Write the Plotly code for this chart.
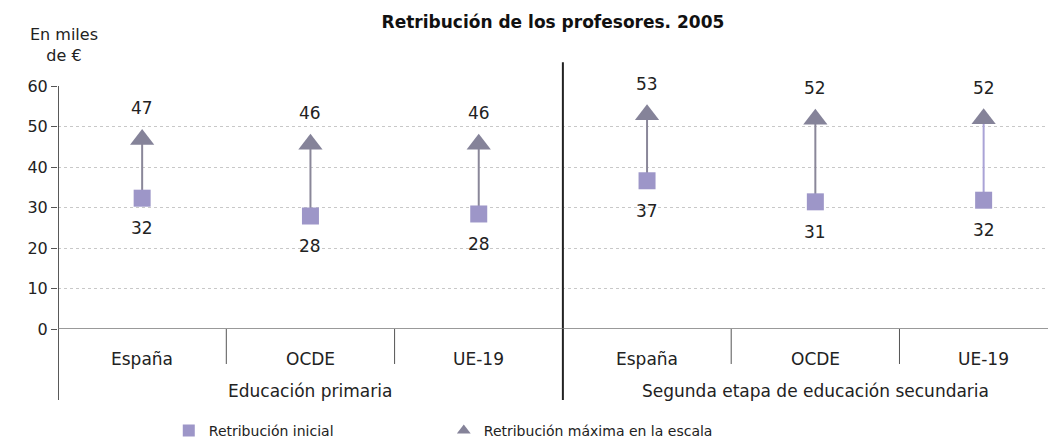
"""Retribución de los profesores, 2005 - rango inicial / máximo."""

import plotly.graph_objects as go

FONT = "DejaVu Sans, Verdana, sans-serif"

groups = ["Educación primaria", "Segunda etapa de educación secundaria"]
countries = ["España", "OCDE", "UE-19", "España", "OCDE", "UE-19"]
initial = [32.3, 27.9, 28.4, 36.6, 31.4, 31.8]
maximum = [46.8, 45.6, 45.6, 52.9, 51.8, 51.9]
y_ticks = [0, 10, 20, 30, 40, 50, 60]

SQUARE = "#9d96c8"
TRIANGLE = "#858399"
STEM = ["#8a8799", "#8a8799", "#8a8799", "#8a8799", "#8a8799", "#aaa3d6"]

xs = [i + 0.5 for i in range(len(countries))]

fig = go.Figure()

for x, lo, hi, col in zip(xs, initial, maximum, STEM):
    fig.add_trace(
        go.Scatter(
            x=[x, x], y=[lo, hi], mode="lines",
            line=dict(color=col, width=2), showlegend=False, hoverinfo="skip",
        )
    )

fig.add_trace(
    go.Scatter(
        x=xs, y=initial, mode="markers", name="Retribución inicial",
        marker=dict(symbol="square", size=17, color=SQUARE),
    )
)
fig.add_trace(
    go.Scatter(
        x=xs, y=maximum, mode="markers", name="Retribución máxima en la escala",
        marker=dict(symbol="triangle-up", size=21, color=TRIANGLE),
    )
)

label_font = dict(family=FONT, size=17, color="#222222")
for x, lo, hi in zip(xs, initial, maximum):
    fig.add_annotation(x=x, y=hi, text=f"{hi:.0f}", showarrow=False, yshift=31,
                       yanchor="middle", font=label_font)
    fig.add_annotation(x=x, y=lo, text=f"{lo:.0f}", showarrow=False, yshift=-30,
                       yanchor="middle", font=label_font)

# category axis below the plot
cat_font = dict(family=FONT, size=17, color="#222222")
for x, name in zip(xs, countries):
    fig.add_annotation(x=x, y=-0.123, yref="paper", yanchor="middle", text=name,
                       showarrow=False, font=cat_font)
for i, g in enumerate(groups):
    fig.add_annotation(x=1.5 + 3 * i, y=-0.255, yref="paper", yanchor="middle", text=g,
                       showarrow=False, font=cat_font)

for b in [1, 2, 4, 5]:
    fig.add_shape(type="line", x0=b, x1=b, y0=0, y1=-0.144, yref="paper",
                  line=dict(color="#555555", width=1))
fig.add_shape(type="line", x0=3, x1=3, y0=-0.292, y1=1.098, yref="paper",
              line=dict(color="#222222", width=2))
fig.add_shape(type="line", x0=0, x1=0, y0=-0.292, y1=1.0, yref="paper",
              line=dict(color="#222222", width=1.5))
fig.add_shape(type="line", x0=0, x1=6, y0=0, y1=0,
              line=dict(color="#777777", width=1.5))

fig.add_annotation(
    x=0.006, y=1.169, xref="paper", yref="paper", xanchor="center", yanchor="middle",
    text="En miles<br>de €", showarrow=False, align="center",
    font=dict(family=FONT, size=16, color="#222222"),
)

# page body has an 8px margin, so the figure is sized to end at the window edge
fig.update_layout(
    width=1048, height=436,
    margin=dict(l=50, r=0, t=78, b=115),
    paper_bgcolor="white", plot_bgcolor="white",
    title=dict(
        text="<b>Retribución de los profesores. 2005</b>",
        x=0.52, xanchor="center", y=0.968, yanchor="middle",
        font=dict(family=FONT, size=17, color="#111111"),
    ),
    font=dict(family=FONT, size=15, color="#222222"),
    xaxis=dict(range=[0, 5.93], showgrid=False, zeroline=False,
               showticklabels=False, showline=False),
    yaxis=dict(range=[0, 60], tickvals=y_ticks, showgrid=True,
               gridcolor="#c8c8c8", griddash="dot", gridwidth=1,
               zeroline=False, showline=False, ticks="outside",
               ticklen=6, tickcolor="#555555", tickfont=dict(size=16, family=FONT)),
    legend=dict(
        orientation="h", x=0.111, xanchor="left",
        yref="container", y=0.03, yanchor="middle",
        entrywidth=230, entrywidthmode="pixels", itemsizing="constant",
        font=dict(family=FONT, size=14, color="#222222"),
    ),
    showlegend=True,
)

fig.write_html("out.html")
